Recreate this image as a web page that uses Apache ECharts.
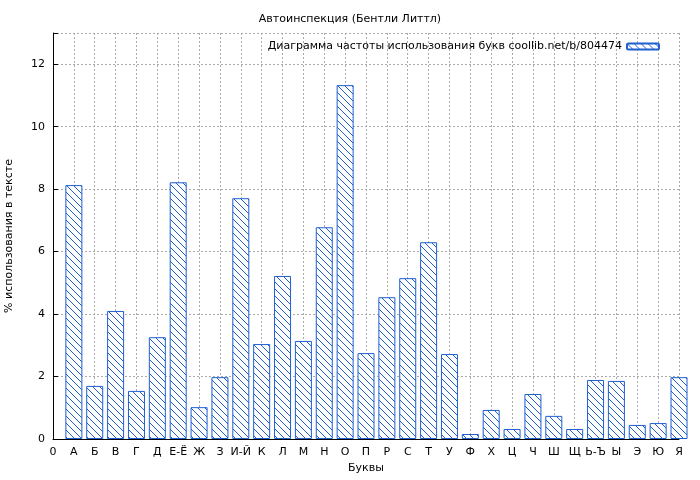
<!DOCTYPE html>
<html><head><meta charset="utf-8">
<script src="https://cdn.jsdelivr.net/npm/echarts@6/dist/echarts.min.js"></script>
<style>html,body{margin:0;background:#fff}#c{width:700px;height:480px}</style>
</head><body><div id="c"></div>
<script>
const letters = ['0','А','Б','В','Г','Д','Е-Ё','Ж','З','И-Й','К','Л','М','Н','О','П','Р','С','Т','У','Ф','Х','Ц','Ч','Ш','Щ','Ь-Ъ','Ы','Э','Ю','Я'];
const values = [8.13,1.70,4.10,1.54,3.26,8.22,1.02,1.98,7.71,3.04,5.22,3.14,6.78,11.33,2.75,4.54,5.15,6.30,2.72,0.16,0.93,0.32,1.44,0.74,0.32,1.89,1.86,0.45,0.51,1.98];
const yTicks = [0,2,4,6,8,10,12];

const cv = document.createElement('canvas');
cv.width = 7; cv.height = 7;
const g = cv.getContext('2d');
g.fillStyle = '#fff'; g.fillRect(0,0,7,7);
g.strokeStyle = '#1f5fd0'; g.lineWidth = 1;
g.beginPath(); g.moveTo(-1,-1); g.lineTo(8,8); g.moveTo(-1,6); g.lineTo(1,8); g.moveTo(6,-1); g.lineTo(8,1); g.stroke();
const pat = {image: cv, repeat: 'repeat'};

const chart = echarts.init(document.getElementById('c'));
chart.setOption({
  animation: false,
  title: {text: 'Автоинспекция (Бентли Литтл)', left: 'center', top: 9, textStyle: {fontSize: 11, fontWeight: 'normal', color: '#000', fontFamily: 'DejaVu Sans'}},
  legend: {right: 35, top: 36, itemWidth: 32, itemHeight: 6, itemGap: 7, align: 'right', textStyle: {fontSize: 11, color: '#000', fontFamily: 'DejaVu Sans'}},
  grid: {left: 53, right: 21, top: 33, bottom: 41, outerBoundsMode: 'none', containLabel: false},
  xAxis: {type: 'value', min: 0, max: 30, interval: 1,
    name: 'Буквы', nameLocation: 'middle', nameGap: 24, nameTextStyle: {fontSize: 11, color: '#000', fontFamily: 'DejaVu Sans'},
    axisLine: {show: true, lineStyle: {color: '#000'}}, axisTick: {inside: true, lineStyle: {color: '#000'}},
    axisLabel: {color: '#000', fontSize: 11, fontFamily: 'DejaVu Sans', formatter: v => letters[v] ?? ''},
    splitLine: {show: true, lineStyle: {color: '#aaa', type: [2,2]}}},
  yAxis: {type: 'value', min: 0, max: 13, interval: 2,
    name: '% использования в тексте', nameLocation: 'middle', nameGap: 38, nameTextStyle: {fontSize: 11, color: '#000', fontFamily: 'DejaVu Sans'},
    axisLine: {show: true, lineStyle: {color: '#000'}}, axisTick: {inside: true, lineStyle: {color: '#000'}},
    axisLabel: {color: '#000', fontSize: 11, fontFamily: 'DejaVu Sans', formatter: v => yTicks.includes(v) ? String(v) : ''},
    splitLine: {show: true, lineStyle: {color: '#aaa', type: [2,2]}}},
  series: [{
    name: 'Диаграмма частоты использования букв coollib.net/b/804474',
    type: 'bar', barWidth: 17, clip: true,
    data: values.map((v,i) => [i+1, v]),
    itemStyle: {color: pat, borderColor: '#1f5fd0', borderWidth: 1}
  }]
});
</script></body></html>
